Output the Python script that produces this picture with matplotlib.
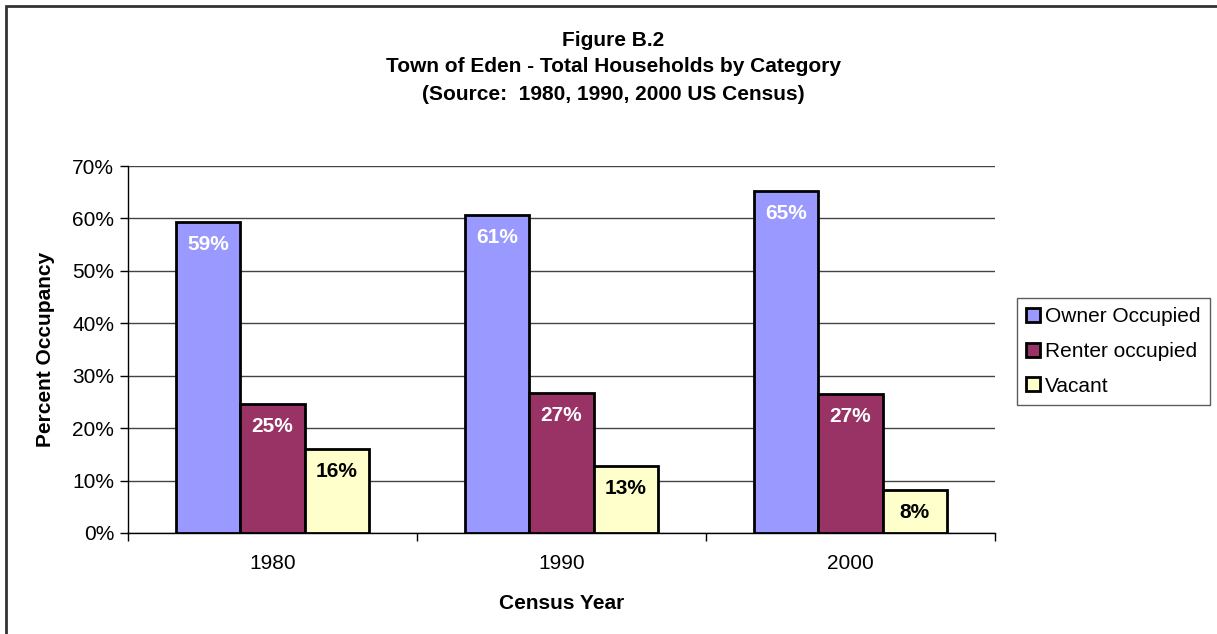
import matplotlib
matplotlib.use("Agg")
import matplotlib.pyplot as plt
import numpy as np
from matplotlib.patches import Rectangle

years = ["1980", "1990", "2000"]
series = ["Owner Occupied", "Renter occupied", "Vacant"]
owner = [59.3, 60.6, 65.3]
renter = [24.6, 26.7, 26.5]
vacant = [16.0, 12.8, 8.2]
owner_labels = ["59%", "61%", "65%"]
renter_labels = ["25%", "27%", "27%"]
vacant_labels = ["16%", "13%", "8%"]
colors = ["#9999FF", "#993366", "#FFFFCC"]
label_colors = ["white", "white", "black"]

plt.rcParams['font.family'] = ['Liberation Sans', 'DejaVu Sans']
FS = 15

W, H = 1217, 634
fig = plt.figure(figsize=(W / 100, H / 100), dpi=100)
ax = fig.add_axes([128 / W, 1 - 533 / H, (995 - 128) / W, (533 - 166) / H])

# figure frame
fig.patches.append(Rectangle((6 / W, -0.05), 1.1, 1 - 6 / H + 0.05, transform=fig.transFigure,
                             fill=False, edgecolor='#333333', linewidth=2.0, zorder=0))

x = np.arange(len(years))
bw = 0.222
data = [owner, renter, vacant]
labels = [owner_labels, renter_labels, vacant_labels]
for i, (vals, lab) in enumerate(zip(data, labels)):
    pos = x + (i - 1) * bw
    bars = ax.bar(pos, vals, width=bw, color=colors[i], edgecolor='black', linewidth=2,
                  label=series[i], zorder=3)
    for b, v, t in zip(bars, vals, lab):
        ax.text(b.get_x() + b.get_width() / 2, v - 4.3, t, ha='center', va='center',
                fontsize=FS, fontweight='bold', color=label_colors[i], zorder=4)

ax.set_xlim(-0.5, 2.5)
ax.set_ylim(0, 70)
ax.set_yticks(np.arange(0, 71, 10))
ax.set_yticklabels([f"{v}%" for v in range(0, 71, 10)], fontsize=FS)
ax.set_xticks(x)
ax.set_xticklabels(years, fontsize=FS)
ax.tick_params(axis='x', length=0, pad=15)
ax.tick_params(axis='y', length=6, width=1, direction='out', pad=4)
# category boundary ticks
ax.set_xticks([-0.5, 0.5, 1.5, 2.5], minor=True)
ax.tick_params(axis='x', which='minor', length=6, width=1, direction='out')

ax.yaxis.grid(True, color='#444444', linewidth=1, zorder=0)
ax.set_axisbelow(True)
for s in ['top', 'right']:
    ax.spines[s].set_visible(False)
ax.spines['left'].set_linewidth(1)
ax.spines['bottom'].set_linewidth(1)

ax.set_xlabel("Census Year", fontsize=FS, fontweight='bold', labelpad=15)
ax.set_ylabel("Percent Occupancy", fontsize=FS, fontweight='bold', labelpad=12)

fig.text(613 / W, 1 - 40 / H, "Figure B.2", ha='center', va='center', fontsize=FS, fontweight='bold')
fig.text(613 / W, 1 - 67 / H, "Town of Eden - Total Households by Category", ha='center', va='center',
         fontsize=FS, fontweight='bold')
fig.text(613 / W, 1 - 95 / H, "(Source:  1980, 1990, 2000 US Census)", ha='center', va='center',
         fontsize=FS, fontweight='bold')

leg = fig.legend(loc='upper left', bbox_to_anchor=(1017 / W, 1 - 298 / H), fontsize=FS,
                 frameon=True, fancybox=False, edgecolor='#333333', borderpad=0.45,
                 handlelength=0.65, handleheight=0.65, handletextpad=0.25, labelspacing=0.75,
                 borderaxespad=0)
leg.get_frame().set_linewidth(1)

fig.savefig("out.png", dpi=100)
